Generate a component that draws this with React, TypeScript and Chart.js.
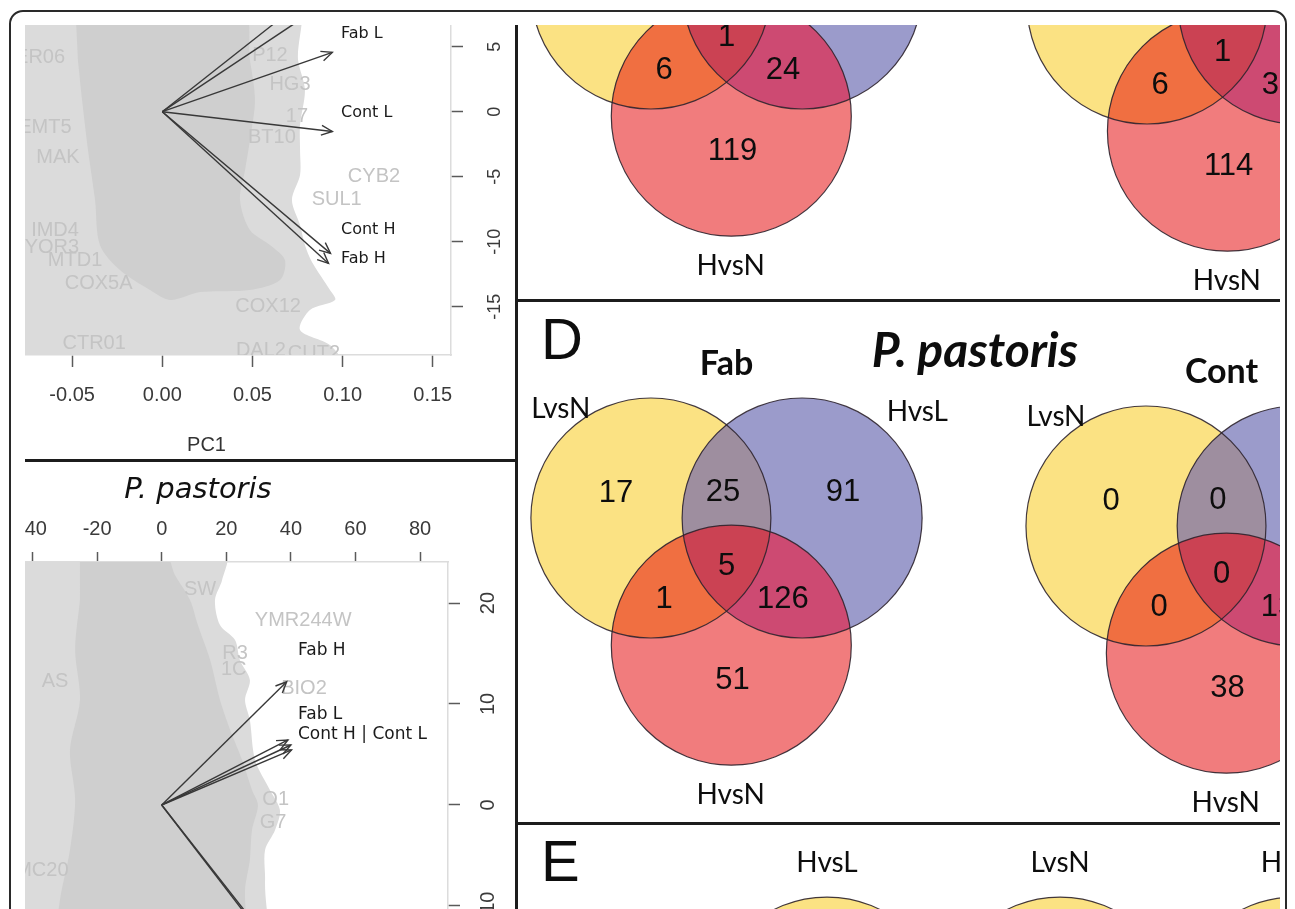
import React, { useEffect, useRef } from "react";
import { Chart, registerables } from "chart.js";

Chart.register(...registerables);

/* ============================ DATA ============================ */

// ---- Top-left biplot (cropped PCA loadings) ----
const TL_X_TICKS = [-0.05, 0, 0.05, 0.1, 0.15];
const TL_Y_TICKS = [5, 0, -5, -10, -15];
const TL_ARROW_X = [0.0731, 0.0866, 0.0943, 0.0943, 0.0933, 0.0922];
const TL_ARROW_Y = [8.0, 8.0, 4.56, -1.52, -10.9, -11.67];
const TL_LABELS = ["Fab L", "Cont L", "Cont H", "Fab H"];
const TL_LABEL_X = [0.0991, 0.0991, 0.0991, 0.0991];
const TL_LABEL_Y = [5.98, -0.12, -9.1, -11.28];
const TL_GENES = ["CYB2", "SUL1", "COX5A", "CTR01", "DAL2", "COX12", "MTD1", "YOR3", "IMD4", "MAK", "EMT5", "ER06", "BT10", "HG3", "P12", "17", "CUT2"];
const TL_GENE_X = [0.1174, 0.0967, -0.0353, -0.0378, 0.0547, 0.0587, -0.0484, -0.0612, -0.0595, -0.0579, -0.0651, -0.0678, 0.0608, 0.0708, 0.0597, 0.0747, 0.0841];
const TL_GENE_Y = [-5.02, -6.79, -13.18, -17.8, -18.33, -15.02, -11.41, -10.41, -9.1, -3.52, -1.22, 4.17, -1.98, 2.09, 4.32, -0.38, -18.56];
const TL_CLOUD_OUTER_X = [-0.115, 0.0736, 0.0753, 0.0791, 0.0764, 0.0764, 0.0764, 0.0719, 0.0764, 0.0791, 0.083, 0.093, 0.0958, 0.0819, 0.0764, 0.093, 0.0986, -0.115];
const TL_CLOUD_OUTER_Y = [8.59, 8.59, 3.98, 1.67, -1.02, -2.95, -4.87, -6.79, -8.72, -10.25, -11.56, -13.72, -14.48, -15.25, -16.79, -17.95, -19.25, -19.25];
const TL_CLOUD_INNER_X = [-0.0484, 0.0431, 0.0486, 0.0514, 0.0486, 0.0459, 0.0431, 0.0486, 0.0597, 0.068, 0.0653, 0.0486, 0.021, 0.0043, -0.0068, -0.0235, -0.0346, -0.0373, -0.0412, -0.0445, -0.0468];
const TL_CLOUD_INNER_Y = [8.59, 8.59, 3.98, 0.9, -2.18, -4.48, -6.79, -9.1, -10.25, -11.41, -12.95, -13.72, -13.87, -14.48, -13.72, -12.18, -10.25, -6.79, -2.95, 0.9, 3.98];

// ---- Bottom-left biplot (P. pastoris) ----
const BL_X_TICKS = [-40, -20, 0, 20, 40, 60, 80];
const BL_Y_TICKS = [20, 10, 0, -10];
const BL_ARROW_X = [38.7, 39.1, 40.0, 40.2, 46.6, 45.6];
const BL_ARROW_Y = [12.2, 6.44, 5.94, 5.45, -19.0, -19.0];
const BL_LABELS = ["Fab H", "Fab L", "Cont H | Cont L"];
const BL_LABEL_X = [42.2, 42.2, 42.2];
const BL_LABEL_Y = [15.3, 8.91, 6.93];
const BL_GENES = ["YMR244W", "BIO2", "O1", "G7", "MC20", "AS", "R3", "1C", "SW"];
const BL_GENE_X = [43.8, 44.06, 35.3, 34.5, -37.1, -33.0, 22.7, 22.3, 11.9];
const BL_GENE_Y = [18.27, 11.53, 0.54, -1.73, -6.44, 12.2, 15.0, 13.4, 21.3];
const BL_CLOUD_OUTER_X = [-68.6, 19.6, 18.7, 16.5, 18.05, 22.7, 24.2, 27.3, 25.8, 27.3, 28.9, 33.5, 36.6, 35.1, 32.0, 32.0, 30.4, -68.6];
const BL_CLOUD_OUTER_Y = [24.75, 24.75, 22.28, 20.3, 17.82, 16.34, 14.36, 12.38, 10.4, 8.42, 4.46, 1.49, -0.5, -2.48, -4.46, -7.43, -21.3, -21.3];
const BL_CLOUD_INNER_X = [-25.3, 1.0, 4.1, 8.76, 11.2, 15.0, 18.05, 21.2, 24.9, 27.96, 29.8, 27.96, 27.3, 25.8, 25.2, -31.5, -33.0, -31.5, -28.4, -26.8, -28.4, -25.3, -26.8, -25.3];
const BL_CLOUD_INNER_Y = [24.75, 24.75, 22.77, 20.3, 17.82, 14.36, 10.4, 7.43, 4.46, 1.49, 0, -2.48, -5.45, -8.42, -21.3, -21.3, -14.36, -9.41, -4.46, 0.5, 5.45, 10.4, 15.35, 20.3];

// ---- Venn diagrams ----
// region order: LvsN only, LvsN&HvsL, HvsL only, all three, LvsN&HvsN, HvsL&HvsN, HvsN only
const VENN_SET_NAMES = ["LvsN", "HvsL", "HvsN"];
const VENN_TITLES = ["Fab", "Cont", "Fab", "Cont"];
const VENN_TOP_FAB = [null, null, null, 1, 6, 24, 119];
const VENN_TOP_CONT = [null, null, null, 1, 6, 36, 114];
const VENN_D_FAB = [17, 25, 91, 5, 1, 126, 51];
const VENN_D_CONT = [0, 0, null, 0, 0, 13, 38];
const E_SET_NAMES = ["HvsL", "LvsN", "HvsN"];
const PANEL_LETTERS = ["D", "E"];
const SPECIES = "P. pastoris";

/* ============================ LAYOUT / STYLE ============================ */
const VENN_COUNTS = [VENN_TOP_FAB, VENN_TOP_CONT, VENN_D_FAB, VENN_D_CONT];
const VENN_ORIGINS = [[1.7375, 9.575], [5.872, 9.45], [1.7375, 5.1667], [5.863, 5.1]];
const CIRCLE_OFFSETS = [[-0.63, 0.35], [0.63, 0.35], [0.04, -0.71]];
const REGION_OFFSETS = [[-0.92, 0.555], [-0.03, 0.567], [0.97, 0.567], [0.0, -0.055], [-0.52, -0.33], [0.47, -0.33], [0.05, -1.0]];
const NAME_OFFSETS = [[-1.38, 1.26], [1.59, 1.23], [0.035, -1.96]];
const TITLE_OFFSET = [0.0, 1.63];
const E_ORIGINS = [[2.575, 1.358], [4.517, 1.358], [6.475, 1.358]];
const E_NAME_DY = 1.28;
const PANEL_POS = [[0.192, 6.979], [0.192, 2.625]];
const SPECIES_POS = [3.808, 6.9];

const C_Y = "#fbe283";
const C_B = "#9b9bcb";
const C_R = "#f17c7d";
const C_YB = "#9e8e9f";
const C_YR = "#f06f41";
const C_BR = "#cd4a72";
const C_YBR = "#cb4253";
const OUTLINE = "rgba(45,35,45,0.9)";
const CLOUD_LIGHT = "#dbdbdb";
const CLOUD_DARK = "#cfcfcf";
const GENE_COLOR = "#c4c4c4";
const ARROW_COLOR = "#383838";
const AXIS_FONT = "'Liberation Sans', Arial, sans-serif";

type XY = { x: number; y: number };
const zip = (xs: number[], ys: number[]): XY[] => xs.map((x, i) => ({ x, y: ys[i] }));

/* ============================ CHART BUILDERS ============================ */

function biplotPlugin(spec: any) {
  return {
    id: "biplotDecor",
    afterDatasetDraw(chart: any, args: any) {
      if (args.index !== 1) return;
      const { ctx, chartArea: a } = chart;
      const sx = chart.scales.x, sy = chart.scales.y;
      ctx.save();
      ctx.beginPath();
      ctx.rect(a.left, a.top, a.right - a.left, a.bottom - a.top);
      ctx.clip();
      ctx.font = `20px ${AXIS_FONT}`;
      ctx.fillStyle = GENE_COLOR;
      ctx.textAlign = "center";
      ctx.textBaseline = "middle";
      spec.genes.forEach((g: string, i: number) => {
        ctx.fillText(g, sx.getPixelForValue(spec.geneX[i]), sy.getPixelForValue(spec.geneY[i]));
      });
      ctx.restore();
    },
    afterDatasetsDraw(chart: any) {
      const { ctx, chartArea: a } = chart;
      const sx = chart.scales.x, sy = chart.scales.y;
      ctx.save();
      ctx.beginPath();
      ctx.rect(a.left, a.top, a.right - a.left, a.bottom - a.top);
      ctx.clip();
      const ox = sx.getPixelForValue(0), oy = sy.getPixelForValue(0);
      ctx.strokeStyle = ARROW_COLOR;
      ctx.lineWidth = 1.4;
      spec.arrowX.forEach((ax: number, i: number) => {
        const px = sx.getPixelForValue(ax), py = sy.getPixelForValue(spec.arrowY[i]);
        const ang = Math.atan2(py - oy, px - ox);
        const L = 12, A = 0.42;
        ctx.beginPath();
        ctx.moveTo(px - L * Math.cos(ang - A), py - L * Math.sin(ang - A));
        ctx.lineTo(px, py);
        ctx.lineTo(px - L * Math.cos(ang + A), py - L * Math.sin(ang + A));
        ctx.stroke();
      });
      ctx.font = spec.labelFont;
      ctx.fillStyle = "#1a1a1a";
      ctx.textAlign = "left";
      ctx.textBaseline = "middle";
      spec.labels.forEach((t: string, i: number) => {
        ctx.fillText(t, sx.getPixelForValue(spec.labelX[i]), sy.getPixelForValue(spec.labelY[i]));
      });
      ctx.restore();
    },
  };
}

function buildBiplot(spec: any) {
  const datasets: any[] = [
    { type: "line", data: zip(spec.outerX, spec.outerY), fill: "shape", backgroundColor: CLOUD_LIGHT, borderColor: "rgba(0,0,0,0)", borderWidth: 0, pointRadius: 0, tension: 0.3, order: 3 },
    { type: "line", data: zip(spec.innerX, spec.innerY), fill: "shape", backgroundColor: CLOUD_DARK, borderColor: "rgba(0,0,0,0)", borderWidth: 0, pointRadius: 0, tension: 0.3, order: 2 },
    ...spec.arrowX.map((ax: number, i: number) => ({
      type: "line",
      data: [{ x: 0, y: 0 }, { x: ax, y: spec.arrowY[i] }],
      fill: false,
      borderColor: ARROW_COLOR,
      borderWidth: 1.4,
      pointRadius: 0,
      tension: 0,
      order: 1,
    })),
  ];
  return {
    type: "scatter",
    data: { datasets },
    options: {
      responsive: false,
      animation: false,
      events: [],
      layout: { padding: spec.layoutPadding },
      plugins: {
        legend: { display: false },
        tooltip: { enabled: false },
        title: spec.title || { display: false },
      },
      scales: {
        x: {
          type: "linear",
          position: spec.xPos,
          min: spec.xMin,
          max: spec.xMax,
          afterBuildTicks: (s: any) => { s.ticks = spec.xTicks.map((v: number) => ({ value: v })); },
          afterFit: (s: any) => { s.height = spec.xAxisH; },
          grid: { drawOnChartArea: false, drawTicks: true, tickLength: spec.xTickLen, tickColor: "#5a5a5a", tickWidth: 1.5 },
          border: { display: true, color: "#dcdcdc", width: 1.5 },
          ticks: { autoSkip: false, maxRotation: 0, minRotation: 0, padding: spec.xTickPad, color: "#3a3a3a", font: { family: AXIS_FONT, size: 20 }, callback: spec.xFmt },
          title: spec.xTitle || { display: false },
        },
        y: {
          type: "linear",
          position: "right",
          min: spec.yMin,
          max: spec.yMax,
          afterBuildTicks: (s: any) => { s.ticks = spec.yTicks.map((v: number) => ({ value: v })); },
          afterFit: (s: any) => { s.width = spec.yAxisW; },
          grid: { drawOnChartArea: false, drawTicks: true, tickLength: 12, tickColor: "#5a5a5a", tickWidth: 1.5 },
          border: { display: true, color: "#dcdcdc", width: 1.5 },
          ticks: { autoSkip: false, minRotation: 90, maxRotation: 90, crossAlign: "center", padding: spec.yTickPad, color: "#3a3a3a", font: { family: AXIS_FONT, size: spec.yFont }, callback: (v: any) => String(v) },
        },
      },
    },
    plugins: [biplotPlugin(spec)],
  };
}

function buildTopLeft() {
  return buildBiplot({
    outerX: TL_CLOUD_OUTER_X, outerY: TL_CLOUD_OUTER_Y,
    innerX: TL_CLOUD_INNER_X, innerY: TL_CLOUD_INNER_Y,
    arrowX: TL_ARROW_X, arrowY: TL_ARROW_Y,
    labels: TL_LABELS, labelX: TL_LABEL_X, labelY: TL_LABEL_Y,
    labelFont: "16px 'DejaVu Sans', sans-serif",
    genes: TL_GENES, geneX: TL_GENE_X, geneY: TL_GENE_Y,
    layoutPadding: { top: 40, left: 0, right: 0, bottom: 0 },
    xPos: "bottom", xMin: -0.11109, xMax: 0.16012, xTicks: TL_X_TICKS,
    xAxisH: 105, xTickLen: 12, xTickPad: 16.5,
    xFmt: (v: any) => Number(v).toFixed(2),
    xTitle: { display: true, text: "PC1", color: "#333", font: { family: AXIS_FONT, size: 20 }, padding: { top: 0, bottom: 3 } },
    yMin: -18.715, yMax: 8.208, yTicks: TL_Y_TICKS, yAxisW: 65, yTickPad: 19, yFont: 18,
  });
}

function buildBottomLeft() {
  return buildBiplot({
    outerX: BL_CLOUD_OUTER_X, outerY: BL_CLOUD_OUTER_Y,
    innerX: BL_CLOUD_INNER_X, innerY: BL_CLOUD_INNER_Y,
    arrowX: BL_ARROW_X, arrowY: BL_ARROW_Y,
    labels: BL_LABELS, labelX: BL_LABEL_X, labelY: BL_LABEL_Y,
    labelFont: "17px 'DejaVu Sans', sans-serif",
    genes: BL_GENES, geneX: BL_GENE_X, geneY: BL_GENE_Y,
    layoutPadding: { top: 0, left: 0, right: 0, bottom: 30 },
    title: { display: true, fullSize: false, text: SPECIES, color: "#111", font: { family: "'DejaVu Sans', sans-serif", size: 29, style: "italic", weight: "normal" }, padding: { top: 10.6, bottom: 0 } },
    xPos: "top", xMin: -66.16, xMax: 88.64, xTicks: BL_X_TICKS,
    xAxisH: 54.6, xTickLen: 10, xTickPad: 11,
    xFmt: (v: any) => String(Math.round(Number(v))),
    yMin: -20.3, yMax: 24.06, yTicks: BL_Y_TICKS, yAxisW: 68, yTickPad: 13.85, yFont: 20,
  });
}

const vennPlugin = {
  id: "vennDecor",
  afterDatasetsDraw(chart: any) {
    const ctx = chart.ctx;
    const sx = chart.scales.x, sy = chart.scales.y;
    const unit = sx.getPixelForValue(1) - sx.getPixelForValue(0);
    const metas = [0, 1, 2].map((i) => chart.getDatasetMeta(i).data);
    const text = (t: string, u: number, v: number, font: string, align: CanvasTextAlign = "center") => {
      ctx.font = font;
      ctx.fillStyle = "#0d0d0d";
      ctx.textAlign = align;
      ctx.textBaseline = "middle";
      ctx.fillText(t, sx.getPixelForValue(u), sy.getPixelForValue(v));
    };
    VENN_ORIGINS.forEach((o, k) => {
      const cs = metas.map((m: any) => ({ x: m[k].x, y: m[k].y }));
      const path = (i: number) => { ctx.beginPath(); ctx.arc(cs[i].x, cs[i].y, unit, 0, Math.PI * 2); };
      const inter = (ids: number[], color: string) => {
        ctx.save();
        for (let j = 0; j < ids.length - 1; j++) { path(ids[j]); ctx.clip(); }
        path(ids[ids.length - 1]);
        ctx.fillStyle = color;
        ctx.fill();
        ctx.restore();
      };
      inter([0, 1], C_YB);
      inter([0, 2], C_YR);
      inter([1, 2], C_BR);
      inter([0, 1, 2], C_YBR);
      ctx.save();
      ctx.strokeStyle = OUTLINE;
      ctx.lineWidth = 1.2;
      for (let i = 0; i < 3; i++) { path(i); ctx.stroke(); }
      ctx.restore();
      ctx.save();
      VENN_COUNTS[k].forEach((c, r) => {
        if (c === null || c === undefined) return;
        text(String(c), o[0] + REGION_OFFSETS[r][0], o[1] + REGION_OFFSETS[r][1], `31px ${AXIS_FONT}`);
      });
      VENN_SET_NAMES.forEach((n, i) => {
        text(n, o[0] + NAME_OFFSETS[i][0], o[1] + NAME_OFFSETS[i][1], "28px Lato, sans-serif");
      });
      text(VENN_TITLES[k], o[0] + TITLE_OFFSET[0], o[1] + TITLE_OFFSET[1], "bold 34px Lato, sans-serif");
      ctx.restore();
    });
    ctx.save();
    E_ORIGINS.forEach((o, i) => {
      text(E_SET_NAMES[i], o[0], o[1] + E_NAME_DY, "28px Lato, sans-serif");
    });
    PANEL_LETTERS.forEach((l, i) => {
      text(l, PANEL_POS[i][0], PANEL_POS[i][1], `58px ${AXIS_FONT}`, "left");
    });
    text(SPECIES, SPECIES_POS[0], SPECIES_POS[1], "italic bold 48px Lato, sans-serif");
    ctx.restore();
  },
};

function buildVenns() {
  const unitRadius = (c: any) => {
    const s = c.chart.scales.x;
    return s.getPixelForValue(1) - s.getPixelForValue(0);
  };
  const centers = (i: number) => VENN_ORIGINS.map((o) => ({ x: o[0] + CIRCLE_OFFSETS[i][0], y: o[1] + CIRCLE_OFFSETS[i][1] }));
  const setColors = [C_Y, C_B, C_R];
  const datasets: any[] = VENN_SET_NAMES.map((name, i) => ({
    label: name,
    data: centers(i),
    backgroundColor: setColors[i],
    borderWidth: 0,
    pointRadius: unitRadius,
    pointHoverRadius: unitRadius,
    clip: false,
    order: 3 - i,
  }));
  datasets.push({
    label: "E",
    data: E_ORIGINS.map((o) => ({ x: o[0], y: o[1] })),
    backgroundColor: C_Y,
    borderColor: OUTLINE,
    borderWidth: 1.2,
    pointRadius: unitRadius,
    pointHoverRadius: unitRadius,
    clip: false,
    order: 0,
  });
  return {
    type: "scatter",
    data: { datasets },
    options: {
      responsive: false,
      animation: false,
      events: [],
      layout: { padding: 0 },
      plugins: { legend: { display: false }, tooltip: { enabled: false } },
      scales: {
        x: { type: "linear", min: 0, max: 6.4, display: false },
        y: { type: "linear", min: 0, max: 11, display: false },
      },
    },
    plugins: [vennPlugin],
  };
}

/* ============================ COMPONENTS ============================ */

function ChartCanvas(props: { left: number; top: number; width: number; height: number; build: () => any }) {
  const ref = useRef<HTMLCanvasElement | null>(null);
  useEffect(() => {
    const chart = new Chart(ref.current as HTMLCanvasElement, props.build());
    return () => chart.destroy();
  }, []);
  const { left, top, width, height } = props;
  return (
    <canvas
      ref={ref}
      width={width}
      height={height}
      style={{ position: "absolute", left, top, width, height }}
    />
  );
}

const LINE = "#1c1c1c";

export default function App() {
  return (
    <div
      style={{
        position: "fixed",
        left: 0,
        top: 0,
        width: 1295,
        height: 909,
        overflow: "hidden",
        background: "#ffffff",
      }}
    >
      <div
        style={{
          position: "absolute",
          left: 9,
          top: 10,
          width: 1278,
          height: 1000,
          border: "2px solid #2a2a2a",
          borderRadius: 14,
          boxSizing: "border-box",
        }}
      />
      <div style={{ position: "absolute", left: 25, top: 25, width: 1255, height: 884, overflow: "hidden" }}>
        <ChartCanvas left={-63} top={-60} width={554} height={495} build={buildTopLeft} />
        <ChartCanvas left={-77} top={437} width={568} height={578} build={buildBottomLeft} />
        <ChartCanvas left={493} top={-165} width={768} height={1320} build={buildVenns} />
        <div style={{ position: "absolute", left: 0, top: 434, width: 492, height: 3, background: LINE }} />
        <div style={{ position: "absolute", left: 490, top: 0, width: 3, height: 884, background: LINE }} />
        <div style={{ position: "absolute", left: 491, top: 274, width: 764, height: 3, background: LINE }} />
        <div style={{ position: "absolute", left: 491, top: 797, width: 764, height: 3, background: LINE }} />
      </div>
    </div>
  );
}
